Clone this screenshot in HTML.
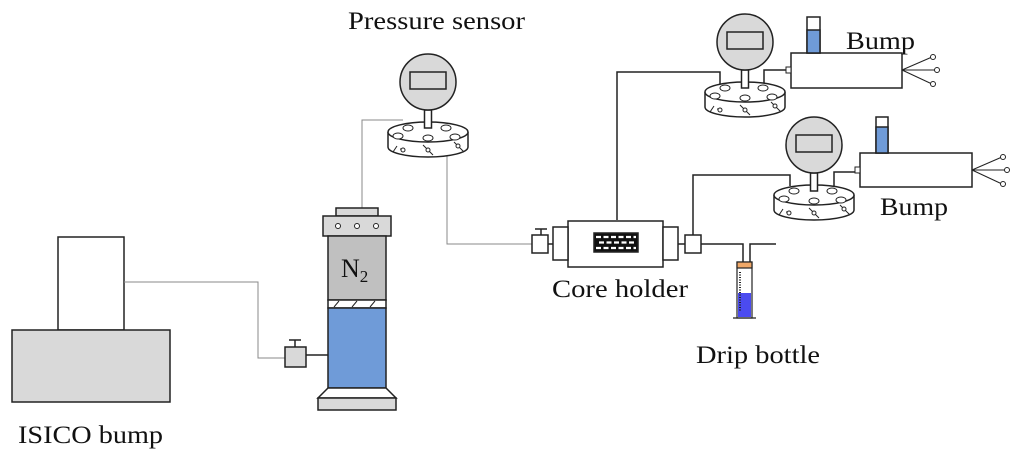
<!DOCTYPE html>
<html><head><style>body{margin:0;background:#fff}svg{display:block}text{font-family:"Liberation Serif",serif;fill:#111}</style></head><body>
<svg width="1024" height="454" viewBox="0 0 1024 454" xmlns="http://www.w3.org/2000/svg">
<defs>
<g id="g">
<path d="M-40,50 L-40,65 A40,10 0 0 0 40,65 L40,50" fill="#fff" stroke="#222" stroke-width="1.5"/>
<ellipse cx="0" cy="50" rx="40" ry="10" fill="#fff" stroke="#222" stroke-width="1.5"/>
<ellipse cx="-30" cy="54" rx="5" ry="3" fill="#fff" stroke="#222"/>
<ellipse cx="-20" cy="46" rx="5" ry="3" fill="#fff" stroke="#222"/>
<ellipse cx="0" cy="56" rx="5" ry="3" fill="#fff" stroke="#222"/>
<ellipse cx="18" cy="46" rx="5" ry="3" fill="#fff" stroke="#222"/>
<ellipse cx="27" cy="55" rx="5" ry="3" fill="#fff" stroke="#222"/>
<path d="M-35,70 l4,-6 M-28,67 l4,0 M-5,63 l10,10 M26,60 l10,10" stroke="#222" fill="none"/>
<circle cx="-25" cy="68" r="2" fill="#fff" stroke="#222"/><circle cx="0" cy="68" r="2" fill="#fff" stroke="#222"/><circle cx="30" cy="64" r="2" fill="#fff" stroke="#222"/>
<rect x="-3.5" y="28" width="7" height="18" fill="#fff" stroke="#222" stroke-width="1.5"/>
<circle cx="0" cy="0" r="28" fill="#d9d9d9" stroke="#222" stroke-width="1.5"/>
<rect x="-18" y="-10" width="36" height="17" fill="#d9d9d9" stroke="#222" stroke-width="1.5"/>
</g>
<g id="p">
<path d="M0,0 L30,-13 M0,0 L34,0 M0,0 L30,14" stroke="#222" fill="none"/>
<circle cx="31" cy="-13" r="2.5" fill="#fff" stroke="#222"/><circle cx="35" cy="0" r="2.5" fill="#fff" stroke="#222"/><circle cx="31" cy="14" r="2.5" fill="#fff" stroke="#222"/>
</g>
</defs>
<g stroke="#222" stroke-width="1.5">
<rect x="58" y="237" width="66" height="93" fill="#fff"/>
<rect x="12" y="330" width="158" height="72" fill="#d9d9d9"/>
<path d="M124,282 H258 V358 H285" fill="none" stroke="#888" stroke-width="1"/>
<rect x="285" y="347" width="21" height="20" fill="#d9d9d9"/>
<path d="M295,347 V340 M289,340 H301 M306,355 H328" fill="none"/>
<path d="M362,208 V120 H403" fill="none" stroke="#888" stroke-width="1"/>
<path d="M447,130 V244 H532" fill="none" stroke="#888" stroke-width="1"/>
<rect x="336" y="208" width="42" height="8" fill="#d9d9d9"/>
<rect x="323" y="216" width="68" height="20" fill="#d9d9d9"/>
<rect x="328" y="236" width="58" height="64" fill="#c0c0c0"/>
<rect x="328" y="300" width="58" height="8" fill="#fff"/>
<path d="M334,307 l5,-6 M352,307 l5,-6 M370,307 l5,-6" fill="none" stroke-width="1"/>
<rect x="328" y="308" width="58" height="80" fill="#6f9bd8"/>
<path d="M328,388 L318,398 H396 L386,388 Z" fill="#fff"/>
<rect x="318" y="398" width="78" height="12" fill="#d9d9d9"/>
</g>
<g fill="#fff" stroke="#222" stroke-width="1"><circle cx="338" cy="226" r="2.5"/><circle cx="357" cy="226" r="2.5"/><circle cx="376" cy="226" r="2.5"/></g>
<text x="341" y="277" font-size="26">N<tspan font-size="17" dy="5">2</tspan></text>
<use href="#g" x="428" y="82"/>
<g stroke="#222" stroke-width="1.5" fill="#fff">
<path d="M617,220 V72 H720 V92" fill="none"/>
<path d="M693,236 V175 H790 V186" fill="none"/>
<path d="M764,88 V70 H789 M834,188 V172 H858" fill="none"/>
<path d="M701,244 H743 V262 M750,262 V244 H776" fill="none"/>
<rect x="568" y="221" width="95" height="46"/>
<rect x="553" y="227" width="15" height="33"/>
<rect x="663" y="227" width="15" height="33"/>
<rect x="532" y="235" width="16" height="18"/>
<path d="M541,235 V229 M535,229 H547 M548,244 H553 M678,244 H685" fill="none"/>
<rect x="685" y="235" width="16" height="18"/>
<rect x="594" y="233" width="44" height="19" fill="#111"/>
</g>
<g stroke="#fff" stroke-width="2.2" stroke-dasharray="5,2.5"><path d="M596,237 H636"/><path d="M599,242.5 H636"/><path d="M596,248 H636"/></g>
<g stroke="#222" stroke-width="1.2">
<rect x="737" y="262" width="15" height="56" fill="#fff"/>
<rect x="737" y="262" width="15" height="6" fill="#f0a868"/>
<rect x="738" y="293" width="13" height="24" fill="#4b4bef" stroke="none"/>
<path d="M740,272 V312" stroke-dasharray="1,1.5" stroke-width="2"/>
<path d="M733,318 H756"/>
</g>
<use href="#g" x="745" y="42"/>
<use href="#g" x="814" y="145"/>
<g stroke="#222" stroke-width="1.5">
<rect x="791" y="53" width="111" height="35" fill="#fff"/>
<rect x="807" y="17" width="13" height="36" fill="#fff"/>
<rect x="807" y="30" width="13" height="23" fill="#6f9bd8"/>
<rect x="786" y="67" width="5" height="6" fill="#fff" stroke-width="1"/>
<rect x="860" y="153" width="112" height="34" fill="#fff"/>
<rect x="876" y="117" width="12" height="36" fill="#fff"/>
<rect x="876" y="127" width="12" height="26" fill="#6f9bd8"/>
<rect x="855" y="167" width="5" height="6" fill="#fff" stroke-width="1"/>
</g>
<use href="#p" x="902" y="70"/>
<use href="#p" x="972" y="170"/>
<g font-size="25">
<text x="348" y="29" textLength="177" lengthAdjust="spacingAndGlyphs">Pressure sensor</text>
<text x="552" y="297" textLength="136" lengthAdjust="spacingAndGlyphs">Core holder</text>
<text x="696" y="363" textLength="124" lengthAdjust="spacingAndGlyphs">Drip bottle</text>
<text x="18" y="443" textLength="145" lengthAdjust="spacingAndGlyphs">ISICO bump</text>
<text x="846" y="49" textLength="69" lengthAdjust="spacingAndGlyphs">Bump</text>
<text x="880" y="215" textLength="68" lengthAdjust="spacingAndGlyphs">Bump</text>
</g>
</svg>
</body></html>
